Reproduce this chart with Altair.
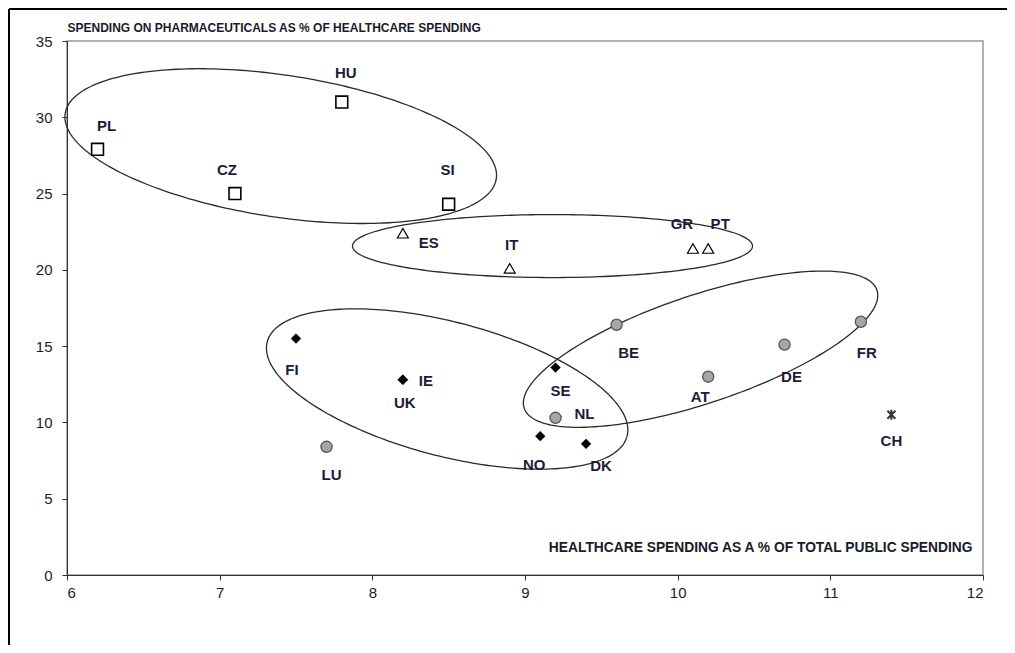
import numpy as np
import pandas as pd
import altair as alt

# ---- data ----
countries = ["PL", "HU", "CZ", "SI", "ES", "IT", "GR", "PT",
             "FI", "IE", "UK", "SE", "NO", "DK",
             "LU", "NL", "BE", "AT", "DE", "FR", "CH"]
health_share = [6.2, 7.8, 7.1, 8.5, 8.2, 8.9, 10.1, 10.2,
                7.5, 8.2, 8.2, 9.2, 9.1, 9.4,
                7.7, 9.2, 9.6, 10.2, 10.7, 11.2, 11.4]
pharma_share = [27.9, 31.0, 25.0, 24.3, 22.4, 20.1, 21.4, 21.4,
                15.5, 12.8, 12.8, 13.6, 9.1, 8.6,
                8.4, 10.3, 16.4, 13.0, 15.1, 16.6, 10.5]
groups = ["cee"] * 4 + ["south"] * 4 + ["north"] * 6 + ["cont"] * 6 + ["ch"]

x_ticks = [6, 7, 8, 9, 10, 11, 12]
y_ticks = [0, 5, 10, 15, 20, 25, 30, 35]
y_title = "SPENDING ON PHARMACEUTICALS AS % OF HEALTHCARE SPENDING"
x_title = "HEALTHCARE SPENDING AS A % OF TOTAL PUBLIC SPENDING"

# label offsets (pixels) relative to each marker
label_offsets = {
    "PL": (9, -23), "HU": (4, -29), "CZ": (-8, -24), "SI": (-1, -34),
    "ES": (26, 10), "IT": (2, -23), "GR": (-11, -24), "PT": (12, -24),
    "FI": (-4, 31), "IE": (23, 1), "UK": (2, 23), "SE": (5, 23),
    "NO": (-6, 29), "DK": (15, 22), "LU": (5, 28), "NL": (29, -4),
    "BE": (12, 28), "AT": (-8, 20), "DE": (7, 32), "FR": (6, 31), "CH": (0, 26),
}

# group ellipses: centre (data units), semi-axes (px), tilt (deg, clockwise on screen)
ellipses = {
    "cee":   (7.40, 28.11, 218, 71, 8.6),
    "south": (9.18, 21.56, 200, 31.5, 0.0),
    "north": (8.49, 12.19, 186, 67, 14.7),
    "cont":  (10.15, 14.80, 186, 54, -18.5),
}

# ---- layout ----
W, H = 916, 534
XD, YD = [6, 12], [0, 35]
kx = W / (XD[1] - XD[0])
ky = H / (YD[1] - YD[0])
FONT = "Liberation Sans"

df = pd.DataFrame({"country": countries, "x": health_share, "y": pharma_share, "group": groups})
df["lx"] = [xv + label_offsets[c][0] / kx for c, xv in zip(countries, health_share)]
df["ly"] = [yv - label_offsets[c][1] / ky for c, yv in zip(countries, pharma_share)]

rows = []
t = np.linspace(0, 2 * np.pi, 241)
for name, (cx, cy, a, b, ang) in ellipses.items():
    th = np.radians(ang)
    dx = a * np.cos(t) * np.cos(th) - b * np.sin(t) * np.sin(th)
    dy = a * np.cos(t) * np.sin(th) + b * np.sin(t) * np.cos(th)
    for i, (u, v) in enumerate(zip(dx, dy)):
        rows.append({"ell": name, "i": i, "x": cx + u / kx, "y": cy - v / ky})
edf = pd.DataFrame(rows)

xs = alt.Scale(domain=XD, nice=False, zero=False)
ys = alt.Scale(domain=YD, nice=False, zero=False)

X = alt.X("x:Q", scale=xs, axis=alt.Axis(
    values=x_ticks, title=x_title, grid=False, format="d",
    titleAnchor="end", titleAlign="right", titleX=905, titleY=-28, titleBaseline="middle",
    titleFont=FONT, titleFontSize=13.8, titleFontWeight="bold", titleColor="#1a1a2a",
    labelFont=FONT, labelFontSize=15, labelColor="#1e1e1e", labelPadding=5,
    tickSize=5, tickColor="#333", domainColor="#333"))
Y = alt.Y("y:Q", scale=ys, axis=alt.Axis(
    values=y_ticks, title=y_title, grid=False, format="d",
    titleAngle=0, titleAnchor="start", titleAlign="left", titleX=0, titleY=-14,
    titleBaseline="middle", titleFont=FONT, titleFontSize=12, titleFontWeight="bold",
    titleColor="#1a1a2a",
    labelFont=FONT, labelFontSize=15, labelColor="#1e1e1e", labelPadding=10,
    tickSize=5, tickColor="#333", domainColor="#333"))
Xn = alt.X("x:Q", scale=xs)
Yn = alt.Y("y:Q", scale=ys)

base = alt.Chart(df)

ell_layer = alt.Chart(edf).mark_line(color="#2a2a2a", strokeWidth=1.3).encode(
    x=X, y=Y, detail="ell:N", order="i:Q")

squares = base.transform_filter(alt.datum.group == "cee").mark_point(
    shape="square", size=140, filled=False, stroke="black", strokeWidth=1.6, opacity=1
).encode(x=Xn, y=Yn)
triangles = base.transform_filter(alt.datum.group == "south").mark_point(
    shape="triangle-up", size=120, filled=False, stroke="black", strokeWidth=1.2, opacity=1
).encode(x=Xn, y=Yn)
diamonds = base.transform_filter(alt.datum.group == "north").mark_point(
    shape="diamond", size=95, filled=True, fill="black", stroke="black", strokeWidth=0.5, opacity=1
).encode(x=Xn, y=Yn)
circles = base.transform_filter(alt.datum.group == "cont").mark_point(
    shape="circle", size=125, filled=True, fill="#a6a6a6", stroke="#555", strokeWidth=1.3, opacity=1
).encode(x=Xn, y=Yn)
star = base.transform_filter(alt.datum.group == "ch").mark_point(
    shape="M0,-1L0,1M-0.8,-0.8L0.8,0.8M-0.8,0.8L0.8,-0.8", size=100, filled=False,
    stroke="#333", strokeWidth=2, opacity=1
).encode(x=Xn, y=Yn)

labels = base.mark_text(font=FONT, fontSize=15, fontWeight="bold", color="#1c1c38",
                        align="center", baseline="middle").encode(
    x=alt.X("lx:Q", scale=xs), y=alt.Y("ly:Q", scale=ys), text="country:N")

one = pd.DataFrame({"k": [0]})
frame_top = alt.Chart(one).mark_rule(color="black", strokeWidth=2).encode(
    x=alt.value(-58), x2=alt.value(1100), y=alt.value(-32))
frame_left = alt.Chart(one).mark_rule(color="black", strokeWidth=2).encode(
    x=alt.value(-58), y=alt.value(-32), y2=alt.value(800))

chart = alt.layer(ell_layer, squares, triangles, diamonds, circles, star, labels,
                  frame_top, frame_left).properties(
    width=W, height=H,
    autosize=alt.AutoSizeParams(type="none"),
    padding={"left": 59, "top": 33, "right": 24, "bottom": 70},
    background="white",
).configure_view(stroke="#999", strokeWidth=1.5)

chart.save("out.html", embed_options={"renderer": "svg", "actions": False})
